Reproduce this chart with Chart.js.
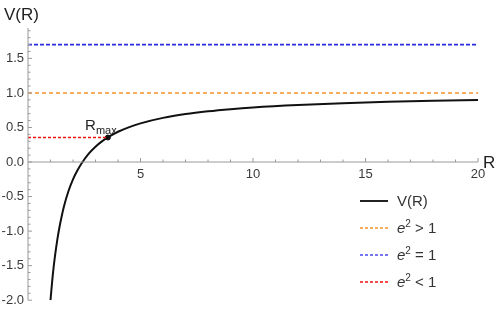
<!DOCTYPE html>
<html>
<head>
<meta charset="utf-8">
<script src="https://cdn.jsdelivr.net/npm/chart.js@4/dist/chart.umd.min.js"></script>
<style>
  body { margin: 0; background: #fff; }
  #wrap { position: relative; width: 498px; height: 312px; }
  #legend { position: absolute; left: 360px; top: 190px; font: 15px "Liberation Sans", Arial, sans-serif; color: #333; }
  #legend .row { position: relative; height: 27px; line-height: 22px; }
  #legend svg { position: absolute; left: 0; top: 9px; }
  #legend .txt { position: absolute; left: 37px; top: 0; white-space: nowrap; }
  #legend sup { font-size: 10px; vertical-align: 6px; line-height: 0; }
</style>
</head>
<body>
<div id="wrap">
  <canvas id="myChart"></canvas>
  <div id="legend">
    <div class="row"><svg width="28" height="4"><line x1="0" y1="2" x2="28" y2="2" stroke="#222" stroke-width="2"/></svg><div class="txt">V(R)</div></div>
    <div class="row"><svg width="28" height="4"><line x1="0" y1="2" x2="28" y2="2" stroke="#f7942a" stroke-width="1.3" stroke-dasharray="3 2"/></svg><div class="txt"><i>e</i><sup>2</sup> &gt; 1</div></div>
    <div class="row"><svg width="28" height="4"><line x1="0" y1="2" x2="28" y2="2" stroke="#4a4af0" stroke-width="1.3" stroke-dasharray="3 2"/></svg><div class="txt"><i>e</i><sup>2</sup> = 1</div></div>
    <div class="row"><svg width="28" height="4"><line x1="0" y1="2" x2="28" y2="2" stroke="#f01010" stroke-width="1.3" stroke-dasharray="3 2"/></svg><div class="txt"><i>e</i><sup>2</sup> &lt; 1</div></div>
  </div>
</div>
<script>
// values
const rValues = [1, 1.1, 1.2, 1.3, 1.4, 1.5, 1.6, 1.8, 2, 2.2, 2.4, 2.7, 3, 3.3, 3.6, 4, 4.5, 5, 6, 7, 8, 9, 10, 12, 14, 16, 18, 20];
const vValues = [-2.0, -1.64, -1.36, -1.13, -0.94, -0.78, -0.64, -0.42, -0.25, -0.12, -0.01, 0.122, 0.222, 0.302, 0.367, 0.438, 0.506, 0.56, 0.639, 0.694, 0.734, 0.765, 0.79, 0.826, 0.852, 0.871, 0.886, 0.898];
const levelAbove = 1.0;   // e^2 > 1
const levelEqual = 1.7;   // e^2 = 1
const levelBelow = 0.355; // e^2 < 1
const rMax = 3.55;
const xTickLabels = [5, 10, 15, 20];
const yTickLabels = [-2, -1.5, -1, -0.5, 0, 0.5, 1, 1.5];

const axisColor = "#9a9a9a";
const labelColor = "#3a3a3a";
const fontFamily = '"Liberation Sans", Arial, sans-serif';

const curve = rValues.map((r, i) => ({x: r, y: vValues[i]}));

// axes with little inward ticks, like the original
const axesPlugin = {
    id: "axes",
    afterDraw(chart) {
        const ctx = chart.ctx;
        const xs = chart.scales.x, ys = chart.scales.y;
        const x0 = xs.getPixelForValue(0), y0 = ys.getPixelForValue(0);
        ctx.save();
        ctx.strokeStyle = axisColor;
        ctx.lineWidth = 1;
        ctx.beginPath();
        ctx.moveTo(x0, ys.top); ctx.lineTo(x0, ys.bottom);
        ctx.moveTo(x0, y0); ctx.lineTo(xs.right, y0);
        for (let i = -20; i <= 19; i++) {
            const y = ys.getPixelForValue(i / 10);
            const len = i % 5 === 0 ? 4 : 2.5;
            ctx.moveTo(x0, y); ctx.lineTo(x0 + len, y);
        }
        for (let i = 1; i <= 20; i++) {
            const x = xs.getPixelForValue(i);
            const len = i % 5 === 0 ? 4 : 2.5;
            ctx.moveTo(x, y0); ctx.lineTo(x, y0 - len);
        }
        ctx.stroke();

        ctx.fillStyle = "#222";
        ctx.font = "17px " + fontFamily;
        ctx.textBaseline = "alphabetic";
        ctx.fillText("V(R)", 4, 20);
        ctx.fillText("R", xs.right + 5, y0 + 6);

        const px = xs.getPixelForValue(rMax), py = ys.getPixelForValue(levelBelow);
        ctx.font = "15px " + fontFamily;
        ctx.fillText("R", px - 23, py - 8);
        ctx.font = "11px " + fontFamily;
        ctx.fillText("max", px - 12, py - 4);
        ctx.restore();
    }
};

const ctx = document.getElementById("myChart").getContext("2d");
new Chart(ctx, {
    type: "line",
    data: {
        datasets: [
            {
                label: "e2 > 1",
                data: [{x: 0, y: levelAbove}, {x: 20, y: levelAbove}],
                borderColor: "#f7942a",
                borderWidth: 1.6,
                borderDash: [4, 3],
                pointRadius: 0
            },
            {
                label: "e2 = 1",
                data: [{x: 0, y: levelEqual}, {x: 20, y: levelEqual}],
                borderColor: "#2a2ae0",
                borderWidth: 1.6,
                borderDash: [4, 2],
                pointRadius: 0
            },
            {
                label: "e2 < 1",
                data: [{x: 0, y: levelBelow}, {x: rMax, y: levelBelow}],
                borderColor: "#f01010",
                borderWidth: 1.6,
                borderDash: [3, 2],
                pointRadius: 0
            },
            {
                label: "V(R)",
                data: curve,
                borderColor: "#111",
                borderWidth: 2,
                cubicInterpolationMode: "monotone",
                pointRadius: 0
            },
            {
                label: "Rmax",
                data: [{x: rMax, y: levelBelow}],
                showLine: false,
                pointRadius: 2.5,
                pointBackgroundColor: "#111",
                pointBorderColor: "#111"
            }
        ]
    },
    options: {
        responsive: true,
        maintainAspectRatio: false,
        animation: false,
        layout: {padding: {top: 28, right: 20, bottom: 10, left: 0}},
        plugins: {legend: {display: false}, tooltip: {enabled: false}},
        scales: {
            x: {
                type: "linear",
                position: {y: 0},
                min: 0,
                max: 20,
                afterBuildTicks: (axis) => { axis.ticks = xTickLabels.map(v => ({value: v})); },
                grid: {display: false, drawTicks: false},
                border: {display: false},
                ticks: {
                    padding: 5,
                    color: labelColor,
                    font: {size: 13, family: fontFamily},
                    maxRotation: 0
                }
            },
            y: {
                type: "linear",
                min: -2,
                max: 1.94,
                afterFit: (axis) => { axis.width = 28; },
                afterBuildTicks: (axis) => { axis.ticks = yTickLabels.map(v => ({value: v})); },
                grid: {display: false, drawTicks: false},
                border: {display: false},
                ticks: {
                    padding: 4,
                    color: labelColor,
                    font: {size: 13, family: fontFamily},
                    callback: (v) => Number(v).toFixed(1)
                }
            }
        }
    },
    plugins: [axesPlugin]
});
</script>
</body>
</html>
